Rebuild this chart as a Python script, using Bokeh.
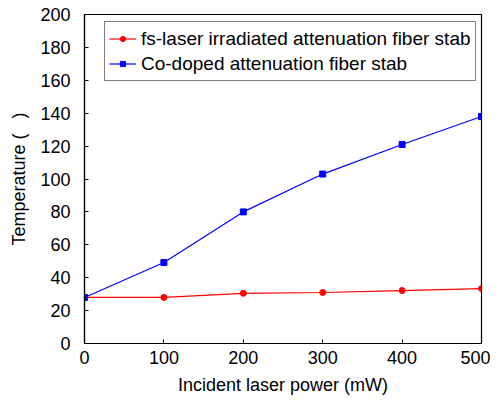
from bokeh.plotting import figure
from bokeh.models import Range1d, FixedTicker, Legend, LegendItem
from bokeh.embed import file_html
from bokeh.resources import INLINE

power = [0, 100, 200, 300, 400, 500]
temp_fs = [28, 28, 30.5, 31, 32.2, 33.4]
temp_co = [28, 49.2, 80, 103, 121, 138]
x_ticks = [0, 100, 200, 300, 400, 500]
y_ticks = [0, 20, 40, 60, 80, 100, 120, 140, 160, 180, 200]

FONT = "Liberation Sans"

p = figure(width=490, height=400, output_backend="svg", toolbar_location=None,
           x_range=Range1d(0, 500), y_range=Range1d(0, 200),
           min_border_left=84, min_border_right=9, min_border_top=14, min_border_bottom=57)
p.xgrid.visible = False
p.ygrid.visible = False
p.outline_line_color = "black"
p.outline_line_width = 1.2
p.background_fill_color = "white"
p.border_fill_color = "white"

for ax in (p.xaxis[0], p.yaxis[0]):
    ax.major_tick_in = 4
    ax.major_tick_out = 0
    ax.minor_tick_in = 0
    ax.minor_tick_out = 0
    ax.axis_line_color = "black"
    ax.axis_line_width = 1.2
    ax.major_tick_line_color = "black"
    ax.major_label_text_font = FONT
    ax.major_label_text_font_size = "18px"
    ax.major_label_text_color = "black"
    ax.axis_label_text_font = FONT
    ax.axis_label_text_font_size = "18px"
    ax.axis_label_text_font_style = "normal"
    ax.axis_label_text_color = "black"

p.xaxis[0].ticker = FixedTicker(ticks=x_ticks)
p.yaxis[0].ticker = FixedTicker(ticks=y_ticks)
p.xaxis[0].axis_label = "Incident laser power (mW)"
p.yaxis[0].axis_label = "Temperature (\u00a0\u00a0\u00a0)"
p.xaxis[0].major_label_standoff = 7
p.yaxis[0].major_label_standoff = 14
p.xaxis[0].axis_label_standoff = 8
p.yaxis[0].axis_label_standoff = 8

l1 = p.line(power, temp_fs, line_color="red", line_width=1.2)
s1 = p.scatter(power, temp_fs, marker="circle", size=6, fill_color="red", line_color="red")
l2 = p.line(power, temp_co, line_color="blue", line_width=1.2)
s2 = p.scatter(power, temp_co, marker="square", size=6, fill_color="blue", line_color="blue")

legend = Legend(items=[
    LegendItem(label="fs-laser irradiated attenuation fiber stab", renderers=[l1, s1]),
    LegendItem(label="Co-doped attenuation fiber stab", renderers=[l2, s2]),
], location=(20, 262))
legend.label_text_font = FONT
legend.label_text_font_size = "19px"
legend.label_text_color = "black"
legend.border_line_color = "black"
legend.border_line_width = 1
legend.padding = 4
legend.spacing = 0
legend.margin = 0
legend.glyph_width = 27
legend.glyph_height = 13
legend.label_standoff = 5
legend.label_height = 25
legend.background_fill_alpha = 1
p.add_layout(legend, "center")

open("out.html", "w").write(file_html(p, INLINE))
